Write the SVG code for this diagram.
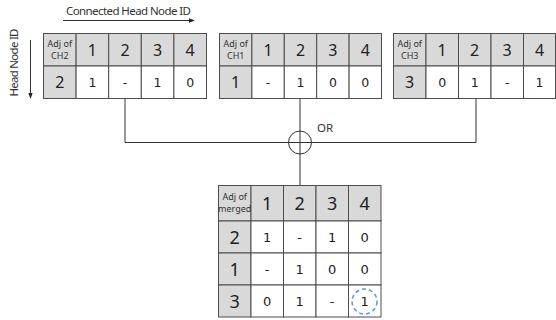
<svg xmlns="http://www.w3.org/2000/svg" width="556" height="320" viewBox="0 0 556 320">
<defs>
<style>
.hd{fill:#d9d9d9;stroke:#4d4d4d;stroke-width:1}
.cl{fill:#ffffff;stroke:#4d4d4d;stroke-width:1}
.big{font-family:"Noto Sans","DejaVu Sans",sans-serif;font-size:16px;fill:#222;text-anchor:middle}
.big2{font-family:"Noto Sans","DejaVu Sans",sans-serif;font-size:18px;fill:#222;text-anchor:middle}
.val{font-family:"DejaVu Sans",sans-serif;font-size:12.5px;fill:#222;text-anchor:middle}
.val2{font-family:"DejaVu Sans",sans-serif;font-size:13px;fill:#222;text-anchor:middle}
.sm{font-family:"Noto Sans","DejaVu Sans",sans-serif;font-size:9px;fill:#333;text-anchor:middle}
.lbl{font-family:"Noto Sans","Liberation Sans",sans-serif;font-size:11.5px;fill:#333}
.ln{stroke:#333;stroke-width:1;fill:none}
</style>
<marker id="ah" viewBox="0 0 8 8" refX="7" refY="4" markerWidth="6" markerHeight="6" orient="auto" markerUnits="userSpaceOnUse">
<path d="M0,1 L8,4 L0,7 Z" fill="#222"/>
</marker>
</defs>
<rect width="556" height="320" fill="#ffffff"/>

<g id="axes">
<text class="lbl" x="128.5" y="15" text-anchor="middle" textLength="125" lengthAdjust="spacing">Connected Head Node ID</text>
<line class="ln" x1="63" y1="20.5" x2="194" y2="20.5" marker-end="url(#ah)"/>
<text class="lbl" transform="translate(18,62.5) rotate(-90)" text-anchor="middle" textLength="68" lengthAdjust="spacing">Head Node ID</text>
<line class="ln" x1="30.5" y1="40" x2="30.5" y2="98" marker-end="url(#ah)"/>
</g>

<g id="connectors">
<polyline class="ln" points="125,98 125,142.5 476,142.5 476,98"/>
<line class="ln" x1="300" y1="98" x2="300" y2="185"/>
<circle class="ln" cx="300" cy="142.5" r="11.5"/>
<text class="lbl" x="317" y="132" font-size="13">OR</text>
</g>

<g id="ch2">
<rect class="hd" x="43.5" y="33.5" width="32.6" height="32.5"/>
<rect class="hd" x="76.1" y="33.5" width="32.6" height="32.5"/>
<rect class="hd" x="108.7" y="33.5" width="32.6" height="32.5"/>
<rect class="hd" x="141.3" y="33.5" width="32.6" height="32.5"/>
<rect class="hd" x="173.9" y="33.5" width="32.6" height="32.5"/>
<rect class="hd" x="43.5" y="66" width="32.6" height="32.5"/>
<rect class="cl" x="76.1" y="66" width="32.6" height="32.5"/>
<rect class="cl" x="108.7" y="66" width="32.6" height="32.5"/>
<rect class="cl" x="141.3" y="66" width="32.6" height="32.5"/>
<rect class="cl" x="173.9" y="66" width="32.6" height="32.5"/>
<text class="sm" x="59.8" y="47">Adj of</text>
<text class="sm" x="59.8" y="59">CH2</text>
<text class="big" x="92.4" y="56">1</text>
<text class="big" x="125" y="56">2</text>
<text class="big" x="157.6" y="56">3</text>
<text class="big" x="190.2" y="56">4</text>
<text class="big" x="59.8" y="88">2</text>
<text class="val" x="92.4" y="87">1</text>
<text class="val" x="125" y="87">-</text>
<text class="val" x="157.6" y="87">1</text>
<text class="val" x="190.2" y="87">0</text>
</g>

<g id="ch1">
<rect class="hd" x="219.5" y="33.5" width="32.4" height="32.5"/>
<rect class="hd" x="251.9" y="33.5" width="32.4" height="32.5"/>
<rect class="hd" x="284.3" y="33.5" width="32.4" height="32.5"/>
<rect class="hd" x="316.7" y="33.5" width="32.4" height="32.5"/>
<rect class="hd" x="349.1" y="33.5" width="32.4" height="32.5"/>
<rect class="hd" x="219.5" y="66" width="32.4" height="32.5"/>
<rect class="cl" x="251.9" y="66" width="32.4" height="32.5"/>
<rect class="cl" x="284.3" y="66" width="32.4" height="32.5"/>
<rect class="cl" x="316.7" y="66" width="32.4" height="32.5"/>
<rect class="cl" x="349.1" y="66" width="32.4" height="32.5"/>
<text class="sm" x="235.7" y="47">Adj of</text>
<text class="sm" x="235.7" y="59">CH1</text>
<text class="big" x="268.1" y="56">1</text>
<text class="big" x="300.5" y="56">2</text>
<text class="big" x="332.9" y="56">3</text>
<text class="big" x="365.3" y="56">4</text>
<text class="big" x="235.7" y="88">1</text>
<text class="val" x="268.1" y="87">-</text>
<text class="val" x="300.5" y="87">1</text>
<text class="val" x="332.9" y="87">0</text>
<text class="val" x="365.3" y="87">0</text>
</g>

<g id="ch3">
<rect class="hd" x="393.5" y="33.5" width="32.5" height="32.5"/>
<rect class="hd" x="426" y="33.5" width="32.5" height="32.5"/>
<rect class="hd" x="458.5" y="33.5" width="32.5" height="32.5"/>
<rect class="hd" x="491" y="33.5" width="32.5" height="32.5"/>
<rect class="hd" x="523.5" y="33.5" width="32" height="32.5"/>
<rect class="hd" x="393.5" y="66" width="32.5" height="32.5"/>
<rect class="cl" x="426" y="66" width="32.5" height="32.5"/>
<rect class="cl" x="458.5" y="66" width="32.5" height="32.5"/>
<rect class="cl" x="491" y="66" width="32.5" height="32.5"/>
<rect class="cl" x="523.5" y="66" width="32" height="32.5"/>
<text class="sm" x="409.7" y="47">Adj of</text>
<text class="sm" x="409.7" y="59">CH3</text>
<text class="big" x="442.2" y="56">1</text>
<text class="big" x="474.7" y="56">2</text>
<text class="big" x="507.2" y="56">3</text>
<text class="big" x="539.5" y="56">4</text>
<text class="big" x="409.7" y="88">3</text>
<text class="val" x="442.2" y="87">0</text>
<text class="val" x="474.7" y="87">1</text>
<text class="val" x="507.2" y="87">-</text>
<text class="val" x="539.5" y="87">1</text>
</g>

<g id="merged">
<rect class="hd" x="218.5" y="185.5" width="32.5" height="35.5"/>
<rect class="hd" x="251" y="185.5" width="32.5" height="35.5"/>
<rect class="hd" x="283.5" y="185.5" width="32.5" height="35.5"/>
<rect class="hd" x="316" y="185.5" width="32.5" height="35.5"/>
<rect class="hd" x="348.5" y="185.5" width="32.5" height="35.5"/>
<rect class="hd" x="218.5" y="221" width="32.5" height="32"/>
<rect class="cl" x="251" y="221" width="32.5" height="32"/>
<rect class="cl" x="283.5" y="221" width="32.5" height="32"/>
<rect class="cl" x="316" y="221" width="32.5" height="32"/>
<rect class="cl" x="348.5" y="221" width="32.5" height="32"/>
<rect class="hd" x="218.5" y="253" width="32.5" height="32"/>
<rect class="cl" x="251" y="253" width="32.5" height="32"/>
<rect class="cl" x="283.5" y="253" width="32.5" height="32"/>
<rect class="cl" x="316" y="253" width="32.5" height="32"/>
<rect class="cl" x="348.5" y="253" width="32.5" height="32"/>
<rect class="hd" x="218.5" y="285" width="32.5" height="32"/>
<rect class="cl" x="251" y="285" width="32.5" height="32"/>
<rect class="cl" x="283.5" y="285" width="32.5" height="32"/>
<rect class="cl" x="316" y="285" width="32.5" height="32"/>
<rect class="cl" x="348.5" y="285" width="32.5" height="32"/>
<text class="sm" x="234.7" y="200" font-size="8.5">Adj of</text>
<text class="sm" x="234.7" y="212" font-size="8.5">merged</text>
<text class="big2" x="267.2" y="210">1</text>
<text class="big2" x="299.7" y="210">2</text>
<text class="big2" x="332.2" y="210">3</text>
<text class="big2" x="364.7" y="210">4</text>
<text class="big2" x="234.7" y="244">2</text>
<text class="val2" x="267.2" y="242">1</text>
<text class="val2" x="299.7" y="242">-</text>
<text class="val2" x="332.2" y="242">1</text>
<text class="val2" x="364.7" y="242">0</text>
<text class="big2" x="234.7" y="276">1</text>
<text class="val2" x="267.2" y="274">-</text>
<text class="val2" x="299.7" y="274">1</text>
<text class="val2" x="332.2" y="274">0</text>
<text class="val2" x="364.7" y="274">0</text>
<text class="big2" x="234.7" y="308">3</text>
<text class="val2" x="267.2" y="306">0</text>
<text class="val2" x="299.7" y="306">1</text>
<text class="val2" x="332.2" y="306">-</text>
<text class="val2" x="364.7" y="306">1</text>
<circle cx="364.5" cy="301.5" r="12.5" fill="none" stroke="#5b9bd5" stroke-width="1.5" stroke-dasharray="4,3"/>
</g>
</svg>
